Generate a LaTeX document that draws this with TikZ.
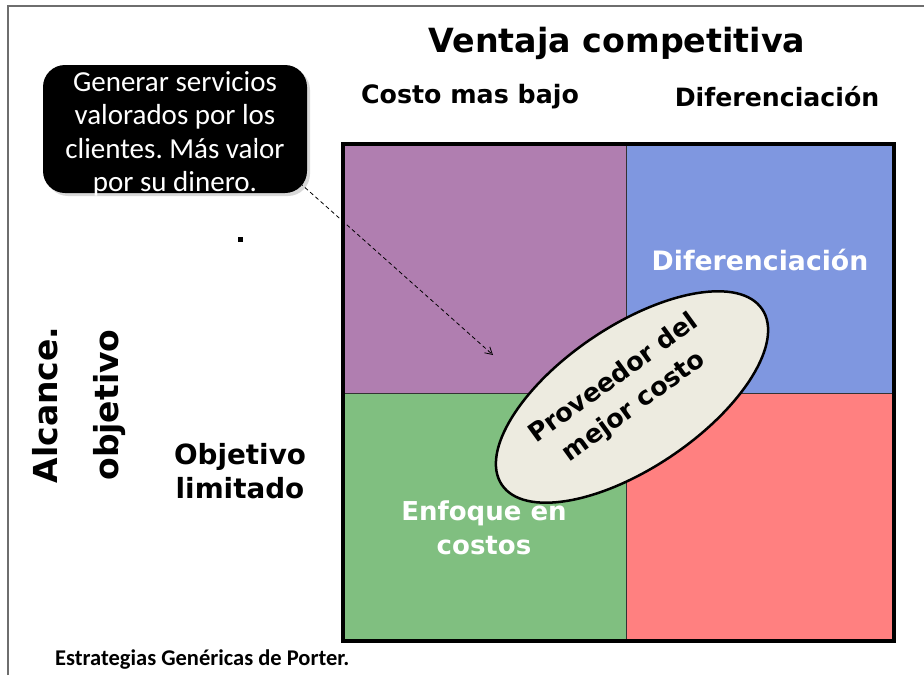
\documentclass[tikz,border=0pt]{standalone}
\usepackage{fontspec}
\setmainfont{DejaVu Sans}
\newfontfamily\calfont{Carlito}
\usetikzlibrary{shapes.geometric,shadows,arrows.meta}
\frenchspacing
\definecolor{cpurple}{RGB}{176,126,176}
\definecolor{cblue}{RGB}{127,151,224}
\definecolor{cgreen}{RGB}{128,191,128}
\definecolor{cred}{RGB}{255,128,128}
\definecolor{cellipse}{RGB}{237,235,224}
\definecolor{cframe}{RGB}{110,110,110}
\tikzset{
  lbl/.style={font=\bfseries\fontsize{#1}{#1}\selectfont, inner sep=0pt, align=center},
  wlbl/.style={lbl=#1, text=white},
  quad/.style={draw=black!80, line width=0.8pt},
}
\begin{document}
\begin{tikzpicture}[x=1pt,y=-1pt]
\useasboundingbox (0,0) rectangle (924,675);
% page frame
\draw[cframe, line width=1.3pt] (8,675) -- (8,6) -- (924,6);
% quadrants
\fill[cpurple] (343,144) rectangle (626,393);
\fill[cblue] (626,144) rectangle (894,393);
\fill[cgreen] (343,393) rectangle (626,641);
\fill[cred] (626,393) rectangle (894,641);
\draw[quad] (626,144) -- (626,641);
\draw[quad] (343,393) -- (894,393);
\draw[black, line width=4pt] (343,144) rectangle (894,641);
% titles
\node[lbl=33.3] (title) at (617,43) {Ventaja competitiva};
\node[lbl=25.3] (low) at (470,97) {Costo mas bajo};
\node[lbl=25.2] (dif) at (777,97) {Diferenciación};
\node[lbl=33, rotate=90] (alc) at (45,405) {Alcance.};
\node[lbl=33, rotate=90] (obj) at (110,405) {objetivo};
\node[lbl=27.8, text depth=0pt] (lim) at (240,471) {Objetivo\\[7pt]limitado};
% quadrant labels
\node[wlbl=26.7] (difq) at (760,260) {Diferenciación};
\node[wlbl=26] (enf) at (484,528) {Enfoque en\\[8pt]costos};
% ellipse
\node[ellipse, draw=black, line width=2.5pt, fill=cellipse, minimum width=314pt, minimum height=142pt, rotate=34, inner sep=0pt] (best) at (632,397) {};
\node[lbl=25.5, rotate=36] (besttxt) at (624,393) {Proveedor del\\[9pt]mejor costo};
% callout
\node[fill=black, rounded corners=22pt, minimum width=264pt, minimum height=128pt,
      drop shadow={shadow xshift=3pt, shadow yshift=-3pt, fill=black!30}] (call) at (175,129) {};
\node[text=white, font=\calfont\fontsize{29}{33.5}\selectfont, align=center, inner sep=0pt] (calltxt) at (175,134)
  {Generar servicios\\valorados por los\\clientes. Más valor\\por su dinero.};
\coordinate (cs) at (237,127);
\coordinate (ce) at (493,355);
\draw[black, line width=0.8pt, dash pattern=on 4pt off 3pt, -{Straight Barb[length=7pt,width=8pt]}] (cs) -- (ce);
% dot
\node[fill=black, minimum size=5pt, inner sep=0pt] (dot) at (240,239) {};
% caption
\node[font=\calfont\bfseries\fontsize{22.5}{22.5}\selectfont, inner sep=0pt, anchor=west] (cap) at (55,660) {Estrategias Genéricas de Porter.};
\end{tikzpicture}
\end{document}
